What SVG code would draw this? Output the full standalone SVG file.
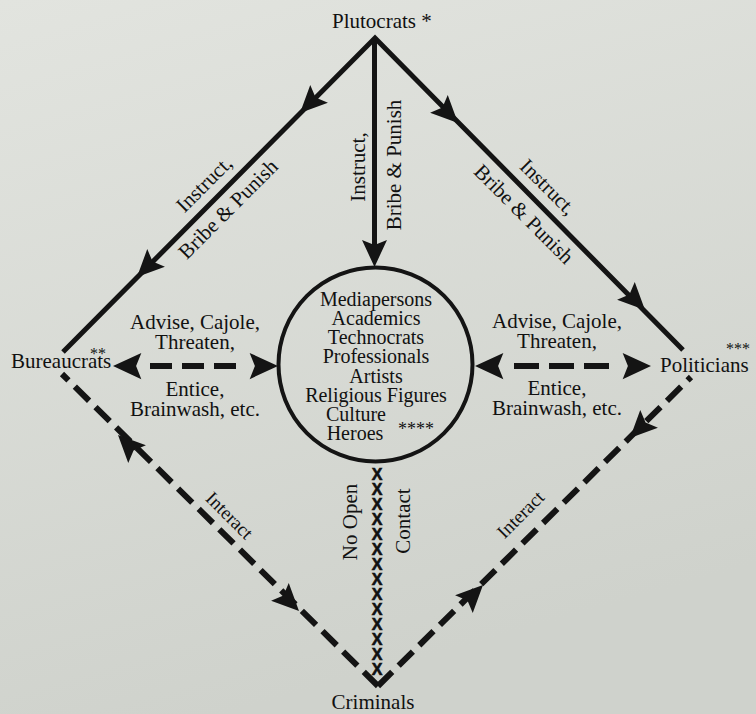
<svg xmlns="http://www.w3.org/2000/svg" width="756" height="714" viewBox="0 0 756 714">
<defs>
<linearGradient id="bg" x1="0" y1="0" x2="0.3" y2="1">
<stop offset="0" stop-color="#e2e4df"/>
<stop offset="1" stop-color="#cfd2cc"/>
</linearGradient>
<path id="ah" d="M0,0 L-27,-12.5 L-22,0 L-27,12.5 Z"/>
<style>
text{font-family:"Liberation Serif","Times New Roman",serif;fill:#111111;font-size:21px}
.c{text-anchor:middle}
.solid{stroke:#141414;stroke-width:5;fill:none;stroke-linejoin:miter}
.dash{stroke:#141414;stroke-width:6;fill:none;stroke-dasharray:20 9}
.ah{fill:#141414}
.x{font-family:"Liberation Sans",Arial,sans-serif;font-weight:bold;font-size:16px;text-anchor:middle;stroke:#111111;stroke-width:0.6}
.ast{font-size:16px}
.circ{font-size:20px}
.sm{font-size:19px}
</style>
</defs>
<rect width="756" height="714" fill="url(#bg)"/>

<g id="connectors">
  <path class="solid" d="M63,352 L375,38 L683,350"/>
  <path class="solid" d="M374.5,38 V250"/>
  <use href="#ah" class="ah" transform="translate(300,113) rotate(135)"/>
  <use href="#ah" class="ah" transform="translate(137,277) rotate(135)"/>
  <use href="#ah" class="ah" transform="translate(458,123) rotate(45)"/>
  <use href="#ah" class="ah" transform="translate(645,310) rotate(45)"/>
  <use href="#ah" class="ah" transform="translate(374.5,267) rotate(90)"/>

  <path class="dash" d="M150,366 H236" style="stroke-dasharray:22 10"/>
  <use href="#ah" class="ah" transform="translate(113,366) rotate(180) scale(1.05)"/>
  <use href="#ah" class="ah" transform="translate(278,366) scale(1.05)"/>
  <path class="dash" d="M514,366 H609" style="stroke-dasharray:25 10"/>
  <use href="#ah" class="ah" transform="translate(475,366) rotate(180) scale(1.05)"/>
  <use href="#ah" class="ah" transform="translate(651,366) scale(1.05)"/>

  <path class="dash" d="M378,686 L62,374"/>
  <path class="dash" d="M378,686 L691,377"/>
  <use href="#ah" class="ah" transform="translate(118,435) rotate(225)"/>
  <use href="#ah" class="ah" transform="translate(299,611) rotate(45)"/>
  <use href="#ah" class="ah" transform="translate(630,438) rotate(135)"/>
  <use href="#ah" class="ah" transform="translate(483,585) rotate(-45)"/>

  <text class="x">
    <tspan x="377" y="480">X</tspan><tspan x="377" y="495">X</tspan><tspan x="377" y="510">X</tspan><tspan x="377" y="525">X</tspan><tspan x="377" y="540">X</tspan><tspan x="377" y="555">X</tspan><tspan x="377" y="570">X</tspan><tspan x="377" y="585">X</tspan><tspan x="377" y="600">X</tspan><tspan x="377" y="615">X</tspan><tspan x="377" y="630">X</tspan><tspan x="377" y="645">X</tspan><tspan x="377" y="660">X</tspan><tspan x="377" y="675">X</tspan>
  </text>

  <text class="c" transform="translate(209,189) rotate(-45)">Instruct,</text>
  <text class="c" transform="translate(233,214) rotate(-45)">Bribe &amp; Punish</text>
  <text class="c" transform="translate(365,167) rotate(-90)">Instruct,</text>
  <text class="c" transform="translate(401,165) rotate(-90)">Bribe &amp; Punish</text>
  <text class="c" transform="translate(543,192) rotate(45)">Instruct,</text>
  <text class="c" transform="translate(519,219) rotate(45)">Bribe &amp; Punish</text>

  <text class="c" x="195" y="329">Advise, Cajole,</text>
  <text class="c" x="195" y="349">Threaten,</text>
  <text class="c" x="195" y="396">Entice,</text>
  <text class="c" x="195" y="416">Brainwash, etc.</text>
  <text class="c" x="557" y="328">Advise, Cajole,</text>
  <text class="c" x="557" y="348">Threaten,</text>
  <text class="c" x="557" y="395">Entice,</text>
  <text class="c" x="557" y="415">Brainwash, etc.</text>

  <text class="c sm" transform="translate(225,520) rotate(45)">Interact</text>
  <text class="c sm" transform="translate(525,519) rotate(-45)">Interact</text>
  <text class="c" transform="translate(357,522) rotate(-90)">No Open</text>
  <text class="c" transform="translate(410,521) rotate(-90)">Contact</text>
</g>

<g id="node-plutocrats">
  <text x="332" y="28">Plutocrats *</text>
</g>
<g id="node-bureaucrats">
  <text x="11" y="368">Bureaucrats</text>
  <text class="c ast" x="98" y="359">**</text>
</g>
<g id="node-politicians">
  <text x="660" y="372">Politicians</text>
  <text class="c ast" x="738" y="354">***</text>
</g>
<g id="node-elites">
  <circle cx="375.5" cy="364.5" r="97" fill="none" stroke="#141414" stroke-width="4"/>
  <text class="c circ" x="376" y="306">Mediapersons</text>
  <text class="c circ" x="376" y="325">Academics</text>
  <text class="c circ" x="376" y="344">Technocrats</text>
  <text class="c circ" x="376" y="363">Professionals</text>
  <text class="c circ" x="376" y="383">Artists</text>
  <text class="c circ" x="376" y="402">Religious Figures</text>
  <text class="c circ" x="356" y="421">Culture</text>
  <text class="c circ" x="355" y="440">Heroes</text>
  <text class="c" x="416" y="435" style="font-size:18px">****</text>
</g>
<g id="node-criminals">
  <text class="c" x="373" y="709">Criminals</text>
</g>
</svg>
